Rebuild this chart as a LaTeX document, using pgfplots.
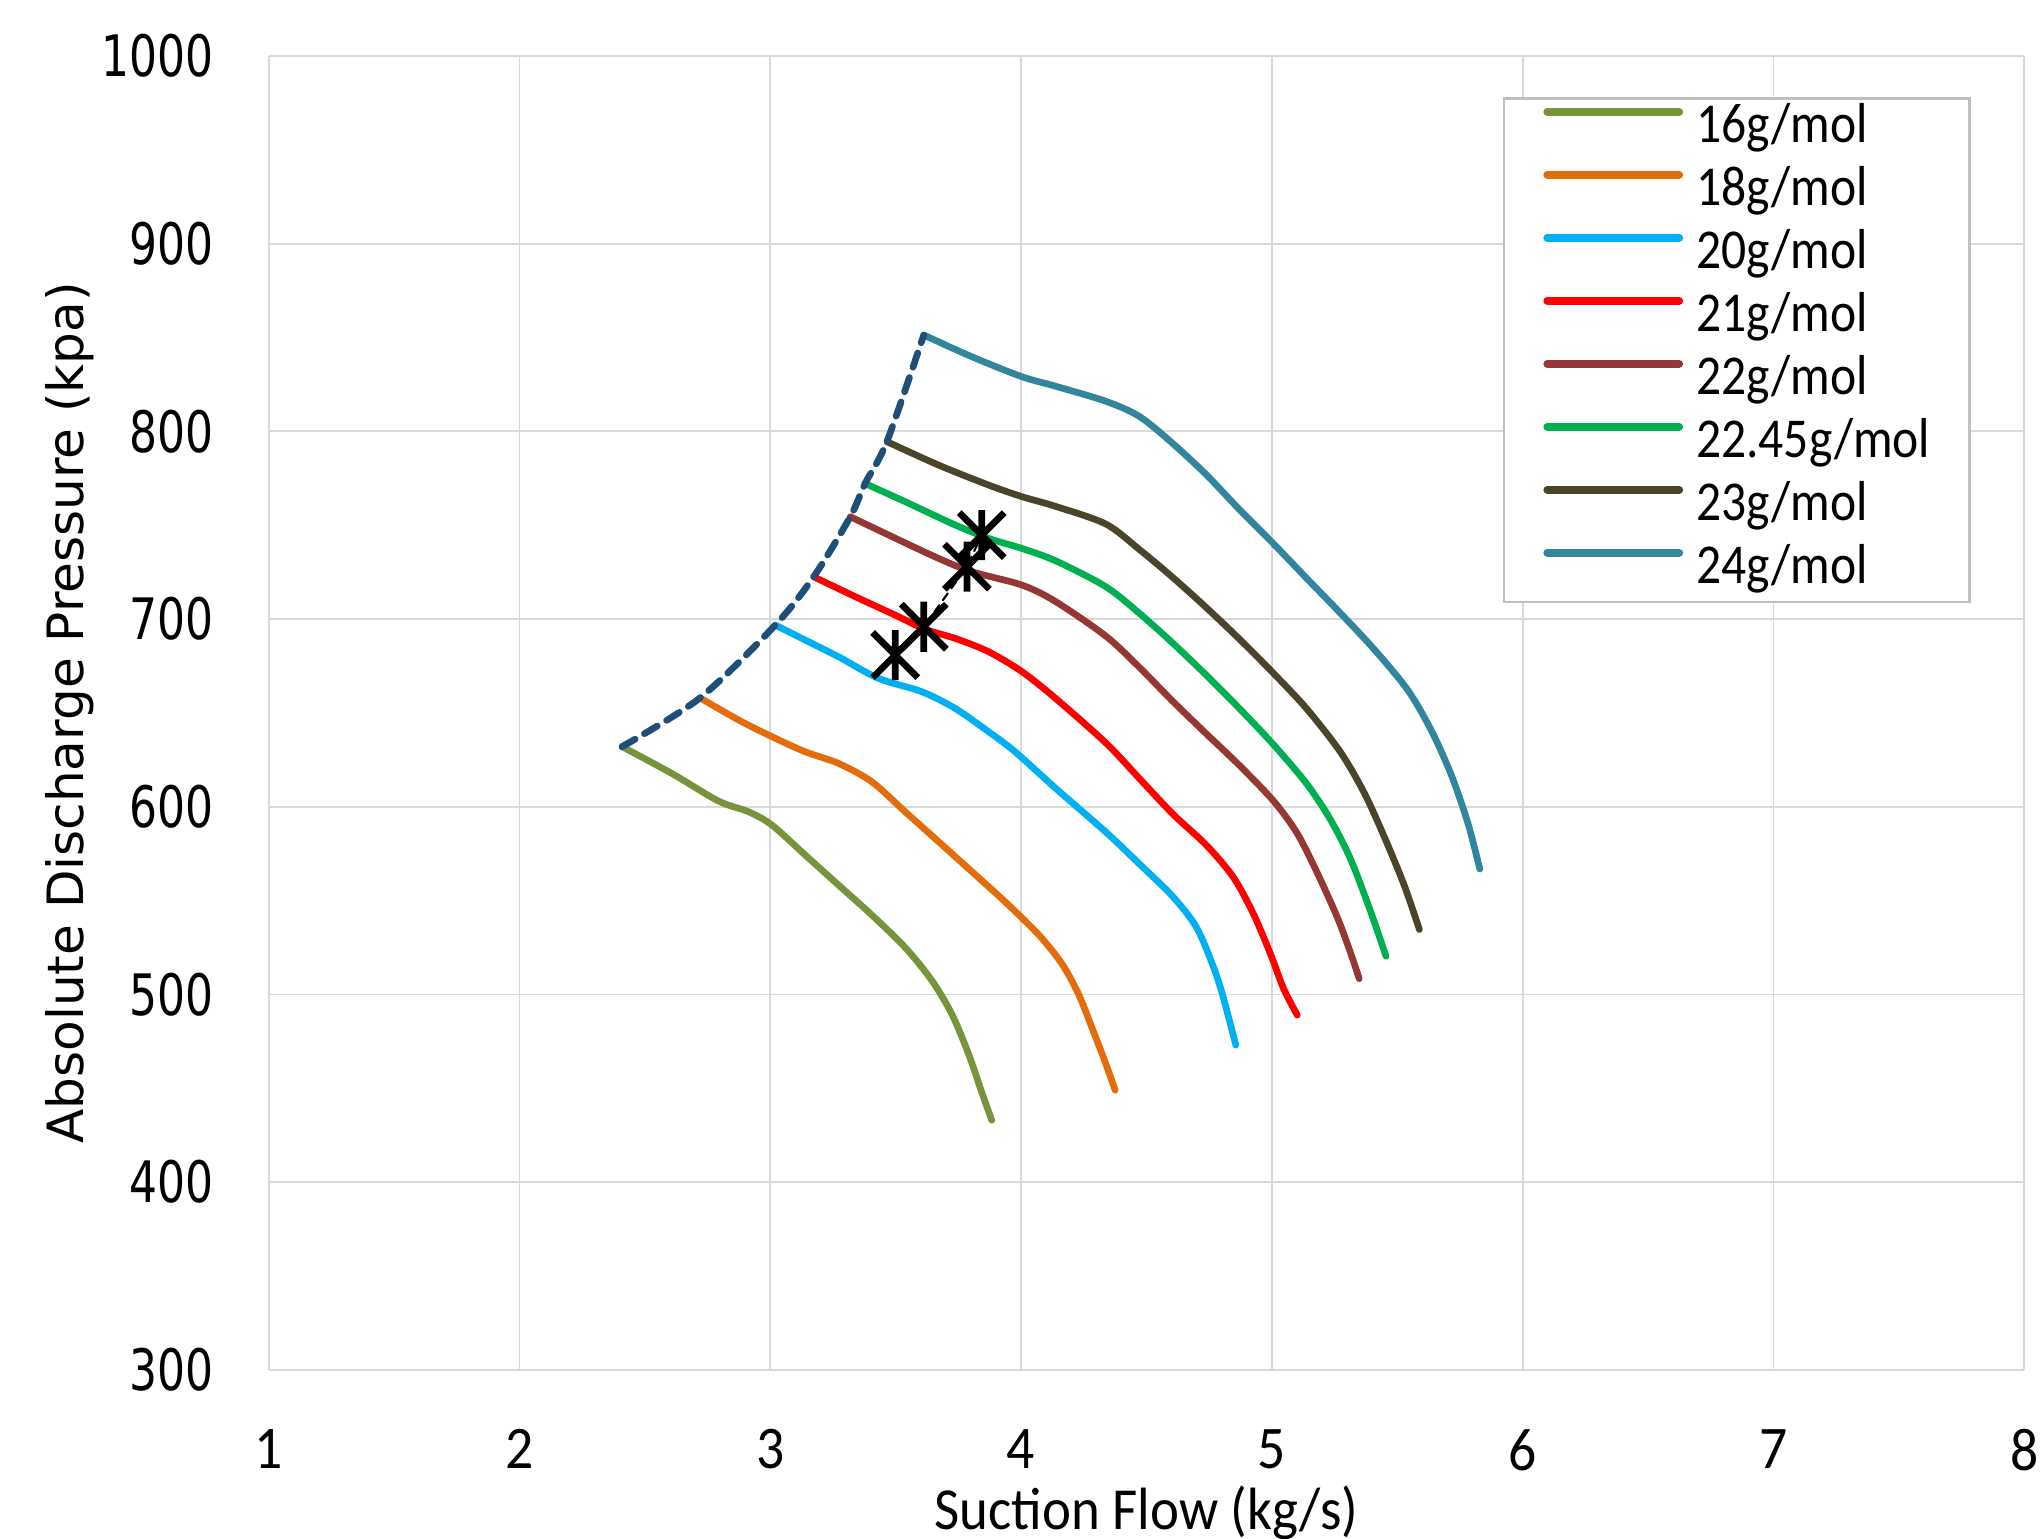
\documentclass[border=0pt]{standalone}
\usepackage{pgfplots}
\pgfplotsset{compat=1.18}
\usepackage{fontspec}
\setmainfont{Carlito}
\newfontfamily\xfont[FakeStretch=0.92]{Carlito}
\newfontfamily\legfont[FakeStretch=0.88]{Carlito}
\newfontfamily\yfont[FakeStretch=0.77]{DejaVu Sans}
\newfontfamily\ylabfont{DejaVu Sans}
\definecolor{c16}{HTML}{77933C}
\definecolor{c18}{HTML}{E46C0A}
\definecolor{c20}{HTML}{00B0F0}
\definecolor{c21}{HTML}{FF0000}
\definecolor{c22}{HTML}{953735}
\definecolor{c2245}{HTML}{00B050}
\definecolor{c23}{HTML}{4A452A}
\definecolor{c24}{HTML}{31859C}
\definecolor{surge}{HTML}{1F4E79}
\definecolor{gridc}{HTML}{D9D9D9}
\definecolor{legc}{HTML}{BFBFBF}
\pgfdeclareplotmark{xstar}{%
 \pgfpathmoveto{\pgfqpoint{0pt}{\pgfplotmarksize}}%
 \pgfpathlineto{\pgfqpoint{0pt}{-\pgfplotmarksize}}%
 \pgfpathmoveto{\pgfqpoint{-0.9\pgfplotmarksize}{0.9\pgfplotmarksize}}%
 \pgfpathlineto{\pgfqpoint{0.9\pgfplotmarksize}{-0.9\pgfplotmarksize}}%
 \pgfpathmoveto{\pgfqpoint{-0.9\pgfplotmarksize}{-0.9\pgfplotmarksize}}%
 \pgfpathlineto{\pgfqpoint{0.9\pgfplotmarksize}{0.9\pgfplotmarksize}}%
 \pgfusepathqstroke}

\pgfplotstableread{
x y
2.409 632
2.608 617.7
2.794 603
2.914 597.3
3.007 590.2
3.139 574.3
3.272 558.3
3.405 542.3
3.538 525
3.644 507.5
3.724 489.5
3.790 468.5
3.843 448
3.883 433
}\tsixteen
\pgfplotstableread{
x y
2.720 658
2.874 646.2
3.007 637.3
3.139 629.3
3.272 623.1
3.405 613.3
3.538 597.3
3.671 581.4
3.804 565.4
3.936 549.4
4.069 532
4.162 516.5
4.228 500.5
4.282 482.5
4.335 464.1
4.375 449
}\teighteen
\pgfplotstableread{
x y
3.020 696.8
3.139 688.8
3.272 679.9
3.431 668.4
3.604 661.3
3.737 652.4
3.870 640
3.976 629.3
4.138 609.8
4.338 586.5
4.472 569.5
4.606 552
4.699 535.8
4.766 515
4.806 498.5
4.856 473
}\ttwenty
\pgfplotstableread{
x y
3.173 722.5
3.339 711.9
3.498 702.1
3.618 694.5
3.737 689.7
3.870 682.6
4.003 672
4.135 658
4.338 634
4.472 615
4.606 596
4.739 579.5
4.846 562.5
4.926 543
4.993 522
5.047 503
5.101 489
}\ttwentyone
\pgfplotstableread{
x y
3.319 754.5
3.471 744.8
3.671 732.3
3.804 725.2
4.003 718.1
4.135 709.5
4.338 690.9
4.472 674.2
4.606 656
4.739 638.8
4.873 621.7
5.007 603
5.100 586
5.180 565
5.261 541
5.314 522
5.348 508.4
}\ttwentytwo
\pgfplotstableread{
x y
3.378 772.2
3.538 762.5
3.737 750.1
3.870 743
4.003 737.6
4.138 731
4.338 717.2
4.472 703
4.606 687
4.739 670
4.873 652
5.007 633
5.140 612
5.234 593
5.314 572
5.394 544
5.455 520.3
}\ttwentytwofive
\pgfplotstableread{
x y
3.465 794.5
3.671 782
3.870 771.4
4.003 765.2
4.138 760
4.338 750.6
4.472 737
4.606 722
4.739 706
4.873 689
5.007 671
5.140 652
5.274 629
5.368 607.4
5.448 584
5.528 558
5.588 534.6
}\ttwentythree
\pgfplotstableread{
x y
3.612 851.3
3.804 839.7
4.003 829.1
4.138 824
4.338 816
4.472 807.9
4.604 793.6
4.739 776.8
4.873 758
5.007 740
5.140 721.5
5.274 703
5.408 683.8
5.541 662.3
5.635 640.8
5.715 617
5.782 591
5.829 566.8
}\ttwentyfour
\pgfplotstableread{
x y
2.409 632
2.720 658
3.020 696.8
3.173 722.5
3.319 754.5
3.378 772.2
3.465 794.5
3.612 851.3
}\tsurge
\pgfplotstableread{
x y
3.498 680.8
3.612 695.9
3.784 727.9
3.843 744.7
}\tstars

\begin{document}
\begin{tikzpicture}
\begin{axis}[
  at={(0,0)}, anchor=south west,
  scale only axis,
  width=420.9pt, height=315pt,
  xmin=1, xmax=8, ymin=300, ymax=1000,
  xtick={1,2,3,4,5,6,7,8},
  ytick={300,400,500,600,700,800,900,1000},
  grid=major,
  grid style={gridc, line width=0.45pt},
  axis line style={draw=none},
  tick style={draw=none},
  major tick length=0pt,
  /pgf/number format/1000 sep={},
  /pgf/number format/assume math mode=true,
  xticklabel style={font=\xfont\fontsize{14.5}{15}\selectfont, anchor=north, inner sep=0pt, yshift=-14.1pt},
  yticklabel style={font=\yfont\fontsize{13.7}{14}\selectfont, anchor=east, inner sep=0pt, xshift=-12.9pt},
  xlabel={Suction Flow (kg/s)},
  xlabel style={font=\xfont\fontsize{14.3}{15}\selectfont, at={(axis description cs:0.5,0)}, anchor=north, inner sep=0pt, yshift=-27.5pt},
  ylabel={Absolute Discharge Pressure (kpa)},
  ylabel style={font=\ylabfont\fontsize{12}{13}\selectfont, at={(axis description cs:-0.1055,0.5)}, anchor=base, rotate=0, inner sep=0pt},
  every axis plot/.append style={line width=1.6pt, line join=round, line cap=round},
  legend style={at={(0.703,0.9686)}, anchor=north west, draw=legc, line width=0.6pt,
    font=\legfont\fontsize{13.5}{15}\selectfont,
    inner xsep=9.4pt, inner ysep=1pt, row sep=2.1pt, column sep=3.1pt,
    nodes={inner sep=0pt, text height=9.6pt, text depth=3.4pt}},
  legend cell align=left,
  legend image code/.code={\draw[#1, line width=1.9pt, line cap=round] (0pt,4.3pt) -- (31.6pt,4.3pt);},
]
\addplot[c16, smooth] table {\tsixteen};
\addlegendentry{16g/mol}
\addplot[c18, smooth] table {\teighteen};
\addlegendentry{18g/mol}
\addplot[c20, smooth] table {\ttwenty};
\addlegendentry{20g/mol}
\addplot[c21, smooth] table {\ttwentyone};
\addlegendentry{21g/mol}
\addplot[c22, smooth] table {\ttwentytwo};
\addlegendentry{22g/mol}
\addplot[c2245, smooth] table {\ttwentytwofive};
\addlegendentry{22.45g/mol}
\addplot[c23, smooth] table {\ttwentythree};
\addlegendentry{23g/mol}
\addplot[c24, smooth] table {\ttwentyfour};
\addlegendentry{24g/mol}
\addplot[surge, smooth, dash pattern=on 3.6pt off 2.6pt, line width=1.6pt, forget plot] table {\tsurge};
\addplot[black, line width=0.5pt, dash pattern=on 2pt off 1.5pt, mark=xstar, mark size=6pt,
  mark options={solid, line width=1.6pt, line cap=butt}, forget plot] table {\tstars};
\end{axis}
\pgfresetboundingbox
\path (-64.4pt,-40.5pt) rectangle (425.6pt,328.4pt);
\end{tikzpicture}
\end{document}
